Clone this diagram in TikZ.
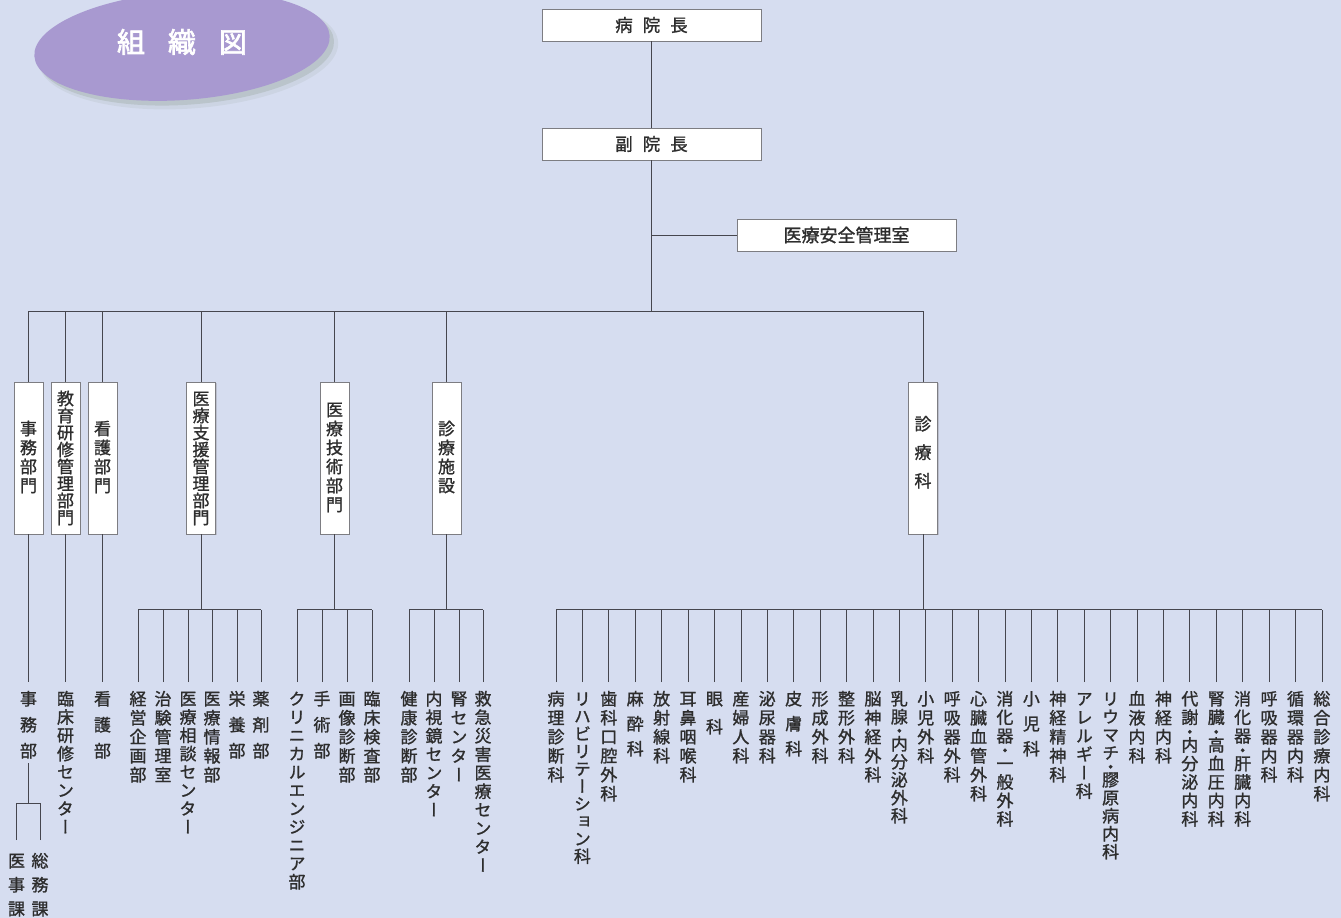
\documentclass[tikz,border=0pt]{standalone}
\usepackage{fontspec}
\usetikzlibrary{shadows}
\newfontfamily\jp{Noto Sans CJK JP}[FakeBold=1.2]
\newfontfamily\jpt{Noto Sans CJK JP}[FakeBold=2.5]
\newfontfamily\jpv{Noto Sans CJK JP}[RawFeature=+vert,FakeBold=1.2]
\definecolor{bgc}{RGB}{214,221,240}
\definecolor{ellc}{RGB}{168,153,208}
\definecolor{shc}{RGB}{125,140,118}
\definecolor{lnc}{RGB}{70,70,78}
\definecolor{txtc}{RGB}{45,45,45}
\definecolor{bdc}{RGB}{125,125,130}
\newdimen\vtp
\newcommand\vcell[1]{\hbox{\vrule height 0.88em depth \dimexpr\vtp-0.88em\relax width 0pt\hbox to 1em{\hss\smash{#1}\hss}}}
\newcommand\vdot[1]{\hbox{\vrule height 0.5\vtp depth 0pt width 0pt\hbox to 1em{\hss\smash{\lower\dimexpr0.38em-0.25\vtp\relax\hbox{#1}}\hss}}}
\ExplSyntaxOn
\NewDocumentCommand{\vt}{O{19pt}m}
 {
  \vbox:n
   {
    \offinterlineskip
    \dim_set:Nn \vtp {#1}
    \exp_args:No \tl_map_inline:nn {#2}
     {
      \str_if_eq:nnTF {##1} {・} { \vdot{##1} } { \vcell{##1} }
     }
   }
 }
\ExplSyntaxOff
\begin{document}
\begin{tikzpicture}[x=1pt,y=-1pt,
  conn/.style={draw=lnc, line width=0.75pt},
  boxbase/.style={draw=bdc, fill=white, line width=0.7pt, inner sep=0pt, text=txtc,
    drop shadow={shadow xshift=1.2pt, shadow yshift=-1.2pt, opacity=0.3}},
  topbox/.style={boxbase, minimum width=219pt, minimum height=32pt, font=\jp\fontsize{17.5}{20}\selectfont},
  vbx/.style={boxbase, minimum width=29pt, minimum height=152pt, font=\jpv\fontsize{17}{19}\selectfont},
  leaf/.style={anchor=north, inner xsep=0pt, inner ysep=8pt, font=\jpv\fontsize{17}{19}\selectfont, text=txtc},
  titletext/.style={font=\jpt\fontsize{28}{32}\selectfont, text=white, inner sep=0pt}]
\fill[bgc] (0,0) rectangle (1341,918);
\useasboundingbox (0,0) rectangle (1341,918);
% title ellipse
\begin{scope}[shift={(182,46)}, rotate=4]
  \fill[shc, opacity=0.10] (6,7) ellipse [x radius=150, y radius=56];
  \fill[shc, opacity=0.22] (4,5) ellipse [x radius=148, y radius=54];
  \fill[ellc] (0,0) ellipse [x radius=148, y radius=54];
\end{scope}
\node[titletext] (title) at (182,42) {組\hspace{23pt}織\hspace{23pt}図};
% top
\node[topbox] (dir) at (651.5,25) {病\hspace{10pt}院\hspace{10pt}長};
\node[topbox] (vice) at (651.5,144) {副\hspace{10pt}院\hspace{10pt}長};
\node[topbox, font=\jp\fontsize{18}{20}\selectfont] (safety) at (846.5,235) {医療安全管理室};
\coordinate (bus) at (0,311);
\draw[conn] (dir) -- (vice);
\draw[conn] (vice.south) -- (vice.south |- bus);
\draw[conn] (vice.south |- safety.west) -- (safety.west);
% divisions
\node[vbx] (jimu) at (28.5,458) {\vt{事務部門}};
\node[vbx] (kyoiku) at (65.5,458) {\vt[17pt]{教育研修管理部門}};
\node[vbx] (kango) at (102.5,458) {\vt{看護部門}};
\node[vbx] (shien) at (201,458) {\vt[17pt]{医療支援管理部門}};
\node[vbx] (gijutsu) at (334.5,458) {\vt{医療技術部門}};
\node[vbx] (shisetsu) at (446.5,458) {\vt{診療施設}};
\node[vbx] (ka) at (923,458) {\vt[28.5pt]{診療科}};
\draw[conn] (jimu.north |- bus) -- (ka.north |- bus);
\foreach \n in {jimu,kyoiku,kango,shien,gijutsu,shisetsu,ka}
  \draw[conn] (\n.north) -- (\n.north |- bus);
% direct leaves
\node[leaf] (jb) at (28.5,682) {\vt[26pt]{事務部}};
\node[leaf] (rk) at (65.5,682) {\vt[18.3pt]{臨床研修センター}};
\node[leaf] (kb) at (102.5,682) {\vt[26pt]{看護部}};
\draw[conn] (jimu.south) -- (jb.north);
\draw[conn] (kyoiku.south) -- (rk.north);
\draw[conn] (kango.south) -- (kb.north);
% 事務部 sub
\coordinate (jsub) at (0,803);
\node[leaf, inner ysep=12pt] (iji) at (16.5,840) {\vt[24pt]{医事課}};
\node[leaf, inner ysep=12pt] (somu) at (40,840) {\vt[24pt]{総務課}};
\draw[conn] ([yshift=13pt]jb.south) -- (jb.south |- jsub);
\draw[conn] (iji.north |- jsub) -- (somu.north |- jsub);
\draw[conn] (iji.north) -- (iji.north |- jsub);
\draw[conn] (somu.north) -- (somu.north |- jsub);
% sub bus
\coordinate (sbus) at (0,609.5);
% 医療支援管理部門
\foreach \t/\p/\x [count=\i] in {経営企画部/19pt/138, 治験管理室/19pt/163, 医療相談センター/18.3pt/188, 医療情報部/19pt/212, 栄養部/26pt/237, 薬剤部/26pt/261}
{
  \node[leaf] (a\i) at (\x,682) {\vt[\p]{\t}};
  \draw[conn] (a\i.north) -- (a\i.north |- sbus);
}
\draw[conn] (a1.north |- sbus) -- (a6.north |- sbus);
\draw[conn] (shien.south) -- (shien.south |- sbus);
% 医療技術部門
\foreach \t/\p/\x [count=\i] in {クリニカルエンジニア部/18.3pt/297, 手術部/26pt/322, 画像診断部/19pt/347, 臨床検査部/19pt/372}
{
  \node[leaf] (b\i) at (\x,682) {\vt[\p]{\t}};
  \draw[conn] (b\i.north) -- (b\i.north |- sbus);
}
\draw[conn] (b1.north |- sbus) -- (b4.north |- sbus);
\draw[conn] (gijutsu.south) -- (gijutsu.south |- sbus);
% 診療施設
\foreach \t/\p/\x [count=\i] in {健康診断部/19pt/409, 内視鏡センター/18.5pt/434, 腎センター/19pt/459, 救急災害医療センター/18.5pt/483}
{
  \node[leaf] (c\i) at (\x,682) {\vt[\p]{\t}};
  \draw[conn] (c\i.north) -- (c\i.north |- sbus);
}
\draw[conn] (c1.north |- sbus) -- (c4.north |- sbus);
\draw[conn] (shisetsu.south) -- (shisetsu.south |- sbus);
% 診療科
\foreach \t/\p [count=\i from 0] in {病理診断科/19pt, リハビリテーション科/17.5pt, 歯科口腔外科/19pt, 麻酔科/25pt, 放射線科/19pt, 耳鼻咽喉科/19pt, 眼科/28pt, 産婦人科/19pt, 泌尿器科/19pt, 皮膚科/25pt, 形成外科/19pt, 整形外科/19pt, 脳神経外科/19pt, 乳腺・内分泌外科/18pt, 小児外科/19pt, 呼吸器外科/19pt, 心臓血管外科/19pt, 消化器・一般外科/18.5pt, 小児科/25pt, 神経精神科/19pt, アレルギー科/18.5pt, リウマチ・膠原病内科/18pt, 血液内科/19pt, 神経内科/19pt, 代謝・内分泌内科/18.5pt, 腎臓・高血圧内科/18.5pt, 消化器・肝臓内科/18.5pt, 呼吸器内科/19pt, 循環器内科/19pt, 総合診療内科/19pt}
{
  \node[leaf] (k\i) at ({556+26.41*\i},682) {\vt[\p]{\t}};
  \draw[conn] (k\i.north) -- (k\i.north |- sbus);
}
\draw[conn] (k0.north |- sbus) -- (k29.north |- sbus);
\draw[conn] (ka.south) -- (ka.south |- sbus);
\end{tikzpicture}
\end{document}
